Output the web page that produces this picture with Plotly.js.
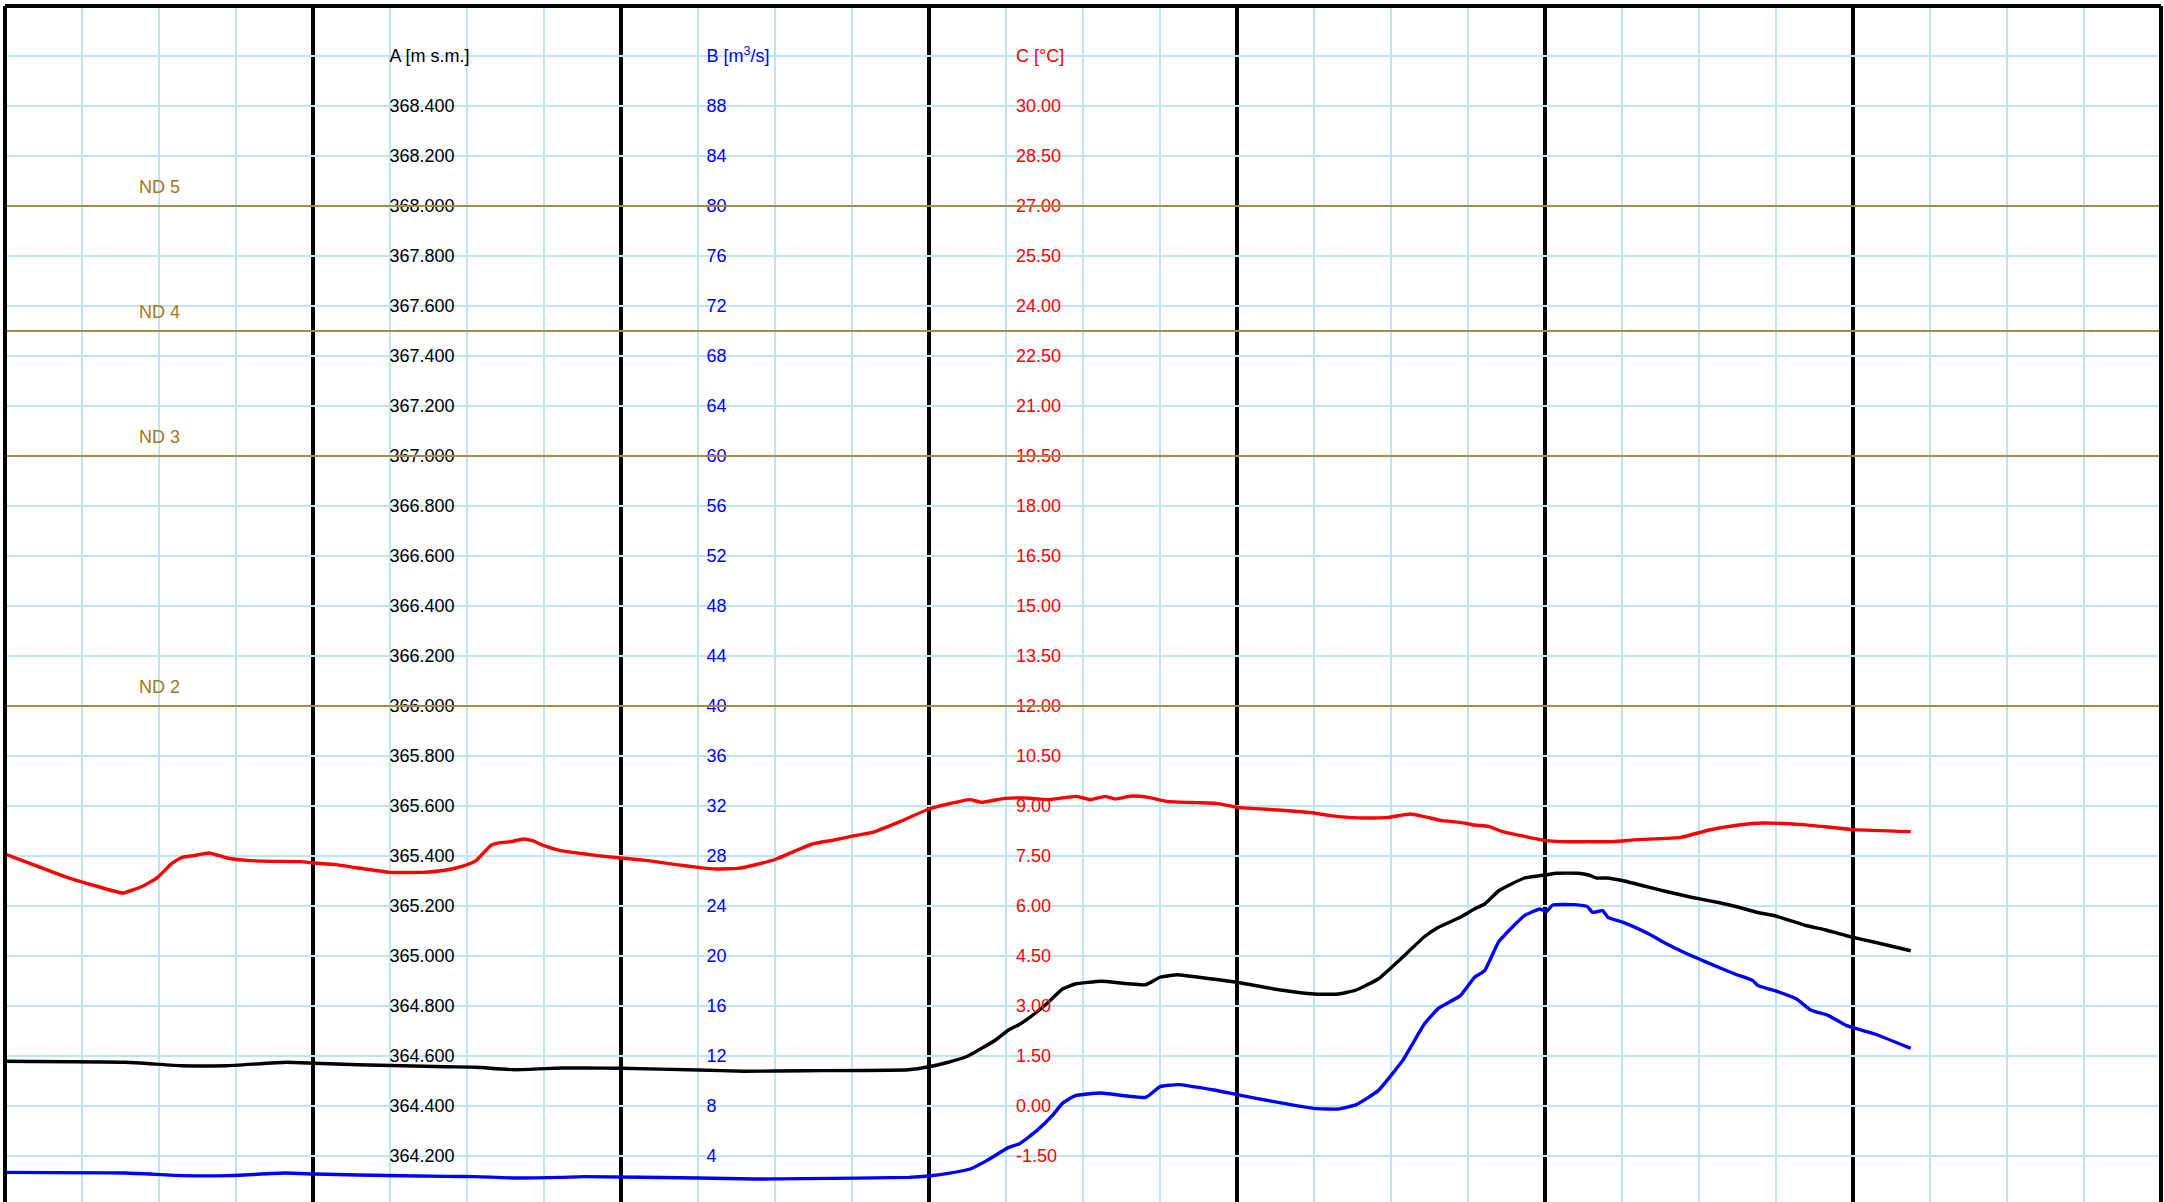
<!DOCTYPE html>
<html>
<head>
<meta charset="utf-8">
<script src="https://cdn.plot.ly/plotly-3.0.1.min.js"></script>
<style>
html, body { margin: 0; padding: 0; overflow: hidden; background: #fff; }
#chart { width: 2164px; height: 1206px; }
</style>
</head>
<body>
<div id="chart"></div>
<script>
// ---- Data (x in hours from the left edge of the chart) ----
const hoursA = [0, 9.4, 13.8, 17.2, 21.9, 24.1, 27.5, 34.4, 36.7, 39.7, 43.3, 45.1, 48.0, 54.0, 57.6, 62.3, 70.4, 72.0, 73.5, 74.9, 76.0, 77.1, 78.2, 79.1, 80.2, 81.3, 82.4, 83.4, 85.4, 88.9, 90.0, 91.4, 93.0, 96.0, 99.4, 102.0, 103.9, 105.3, 107.0, 108.9, 110.6, 111.7, 113.4, 114.5, 115.3, 116.4, 118.4, 120.1, 120.9, 122.6, 123.4, 124.0, 124.8, 126.1, 129.2, 131.4, 133.7, 135.1, 136.5, 137.9, 140.4, 141.8, 143.5, 145.7, 148.5];
const valuesA = [364.579, 364.575, 364.561, 364.561, 364.575, 364.571, 364.565, 364.557, 364.555, 364.545, 364.552, 364.552, 364.551, 364.544, 364.539, 364.541, 364.545, 364.557, 364.575, 364.597, 364.628, 364.661, 364.704, 364.728, 364.768, 364.815, 364.868, 364.888, 364.899, 364.885, 364.915, 364.925, 364.915, 364.895, 364.864, 364.848, 364.848, 364.864, 364.908, 364.995, 365.077, 365.115, 365.155, 365.188, 365.208, 365.261, 365.312, 365.325, 365.331, 365.331, 365.324, 365.312, 365.312, 365.301, 365.261, 365.235, 365.212, 365.195, 365.175, 365.161, 365.121, 365.105, 365.081, 365.055, 365.021];

const hoursB = [0, 9.4, 13.8, 17.4, 21.9, 24.1, 27.5, 34.4, 36.7, 39.7, 43.3, 45.1, 54.0, 58.4, 62.3, 70.4, 72.0, 73.5, 75.2, 76.5, 78.2, 79.1, 80.4, 81.6, 82.4, 83.4, 85.4, 88.9, 90.0, 91.4, 94.2, 96.0, 99.2, 102.0, 103.9, 105.3, 107.0, 108.9, 110.6, 111.7, 113.4, 114.5, 115.3, 116.4, 118.4, 119.6, 120.1, 120.6, 122.3, 123.3, 123.7, 124.5, 124.9, 126.1, 128.1, 129.5, 131.1, 132.8, 134.8, 136.2, 136.6, 137.9, 139.6, 140.7, 142.1, 143.5, 145.7, 148.5];
const valuesB = [2.69, 2.64, 2.43, 2.43, 2.64, 2.56, 2.48, 2.37, 2.35, 2.24, 2.29, 2.35, 2.24, 2.16, 2.19, 2.29, 2.40, 2.61, 2.96, 3.63, 4.69, 5.01, 6.03, 7.23, 8.21, 8.83, 9.04, 8.69, 9.55, 9.71, 9.28, 8.91, 8.29, 7.81, 7.76, 8.11, 9.23, 11.63, 14.56, 15.81, 16.83, 18.29, 18.83, 21.15, 23.23, 23.76, 23.55, 24.08, 24.11, 23.95, 23.49, 23.63, 23.09, 22.69, 21.76, 20.96, 20.16, 19.41, 18.56, 18.03, 17.63, 17.23, 16.56, 15.68, 15.23, 14.43, 13.76, 12.61];

const hoursC = [0, 2.4, 4.6, 6.9, 9.2, 10.8, 11.9, 13.0, 13.8, 14.7, 15.9, 17.3, 19.1, 20.8, 23.0, 24.1, 25.8, 27.5, 30.0, 32.5, 34.4, 35.8, 36.7, 37.9, 38.6, 39.4, 40.4, 41.1, 42.0, 43.3, 44.2, 46.2, 48.0, 50.1, 52.3, 54.0, 55.4, 57.1, 58.4, 60.1, 61.5, 62.9, 64.6, 66.2, 67.6, 69.6, 72.0, 73.5, 75.2, 76.1, 77.9, 79.6, 81.3, 83.5, 84.6, 85.7, 86.5, 87.8, 89.1, 90.5, 92.8, 94.4, 96.1, 99.2, 102.0, 103.3, 104.7, 106.1, 107.8, 109.5, 110.6, 112.0, 113.4, 114.5, 115.6, 116.7, 118.4, 120.1, 121.2, 123.4, 125.3, 127.2, 130.6, 132.8, 135.1, 137.0, 140.1, 144.1, 148.5];
const valuesC = [7.56, 7.21, 6.89, 6.62, 6.39, 6.61, 6.86, 7.28, 7.46, 7.51, 7.59, 7.44, 7.36, 7.34, 7.33, 7.29, 7.24, 7.14, 7.01, 7.01, 7.08, 7.21, 7.36, 7.83, 7.90, 7.93, 8.01, 7.96, 7.81, 7.66, 7.61, 7.51, 7.44, 7.36, 7.24, 7.16, 7.11, 7.13, 7.23, 7.41, 7.64, 7.86, 7.98, 8.11, 8.21, 8.51, 8.91, 9.06, 9.19, 9.11, 9.23, 9.24, 9.19, 9.29, 9.19, 9.29, 9.21, 9.30, 9.26, 9.14, 9.10, 9.08, 8.96, 8.88, 8.79, 8.71, 8.66, 8.64, 8.66, 8.76, 8.68, 8.56, 8.51, 8.43, 8.39, 8.23, 8.09, 7.96, 7.93, 7.93, 7.93, 7.99, 8.06, 8.28, 8.43, 8.49, 8.44, 8.29, 8.23];

// ---- Tick labels ----
const ticksA = [364.2, 364.4, 364.6, 364.8, 365.0, 365.2, 365.4, 365.6, 365.8, 366.0, 366.2, 366.4, 366.6, 366.8, 367.0, 367.2, 367.4, 367.6, 367.8, 368.0, 368.2, 368.4, 368.6];
const labelsA = ['364.200', '364.400', '364.600', '364.800', '365.000', '365.200', '365.400', '365.600', '365.800', '366.000', '366.200', '366.400', '366.600', '366.800', '367.000', '367.200', '367.400', '367.600', '367.800', '368.000', '368.200', '368.400', 'A [m s.m.]'];
const ticksB = [4, 8, 12, 16, 20, 24, 28, 32, 36, 40, 44, 48, 52, 56, 60, 64, 68, 72, 76, 80, 84, 88, 92];
const labelsB = ['4', '8', '12', '16', '20', '24', '28', '32', '36', '40', '44', '48', '52', '56', '60', '64', '68', '72', '76', '80', '84', '88', 'B [m<sup>3</sup>/s]'];
const ticksC = [-1.5, 0, 1.5, 3, 4.5, 6, 7.5, 9, 10.5, 12, 13.5, 15, 16.5, 18, 19.5, 21, 22.5, 24, 25.5, 27, 28.5, 30, 31.5];
const labelsC = ['-1.50', '0.00', '1.50', '3.00', '4.50', '6.00', '7.50', '9.00', '10.50', '12.00', '13.50', '15.00', '16.50', '18.00', '19.50', '21.00', '22.50', '24.00', '25.50', '27.00', '28.50', '30.00', 'C [°C]'];

const dayTicks = [0, 24, 48, 72, 96, 120, 144, 168];

const ndLevels = [368.0, 367.5, 367.0, 366.0];
const ndLabels = ['ND 5', 'ND 4', 'ND 3', 'ND 2'];

// ---- Styling ----
const FONT = 'Liberation Sans, Arial, Helvetica, sans-serif';
const GRID = '#BDE6F3';
const ND_LINE = '#A58D47';
const ND_TEXT = '#A0781E';

const lineStyle = (c) => ({ color: c, width: 3.4, shape: 'spline', smoothing: 0.4 });

const traces = [
  { x: hoursC, y: valuesC, yaxis: 'y3', mode: 'lines', line: lineStyle('#FF0000'), hoverinfo: 'skip' },
  { x: hoursA, y: valuesA, yaxis: 'y', mode: 'lines', line: lineStyle('#000000'), hoverinfo: 'skip' },
  { x: hoursB, y: valuesB, yaxis: 'y2', mode: 'lines', line: lineStyle('#0000FF'), hoverinfo: 'skip' }
];

const shapes = ndLevels.map(v => ({
  type: 'line', xref: 'paper', x0: 0, x1: 1, yref: 'y', y0: v, y1: v,
  line: { color: ND_LINE, width: 2 }, layer: 'above'
}));
shapes.push(
  { type: 'line', xref: 'paper', yref: 'paper', x0: 0, x1: 1, y0: 1, y1: 1, line: { color: '#000', width: 4 }, layer: 'above' },
  { type: 'line', xref: 'paper', yref: 'paper', x0: 0, x1: 0, y0: 0, y1: 1, line: { color: '#000', width: 4 }, layer: 'above' },
  { type: 'line', xref: 'paper', yref: 'paper', x0: 1, x1: 1, y0: 0, y1: 1, line: { color: '#000', width: 4 }, layer: 'above' }
);

const annotations = ndLevels.map((v, i) => ({
  x: 12.0, xref: 'x', y: v, yref: 'y', text: ndLabels[i], showarrow: false,
  xanchor: 'center', yanchor: 'bottom', yshift: 7,
  font: { family: FONT, size: 18, color: ND_TEXT }
}));

const valueAxis = (extra) => Object.assign({
  anchor: 'free', side: 'right', ticklabelposition: 'outside', ticks: '',
  showgrid: false, zeroline: false, showline: false, tickmode: 'array'
}, extra);

const layout = {
  width: 2164, height: 1206,
  margin: { l: 5, r: 3, t: 6, b: 0, pad: 0 },
  paper_bgcolor: '#ffffff', plot_bgcolor: '#ffffff',
  showlegend: false,
  font: { family: FONT, size: 18, color: '#000' },
  xaxis: {
    range: [0, 168], tickmode: 'array', tickvals: dayTicks, showticklabels: false, ticks: '',
    showgrid: true, gridcolor: '#000000', gridwidth: 3.5, zeroline: false, showline: false,
    minor: { tick0: 0, dtick: 6, showgrid: true, gridcolor: GRID, gridwidth: 1.5, ticks: '' }
  },
  yaxis: valueAxis({
    range: [364.0, 368.8], tickvals: ticksA, ticktext: labelsA, position: 0.1779,
    showgrid: true, gridcolor: GRID, gridwidth: 2,
    tickfont: { family: FONT, size: 18, color: '#000000' }
  }),
  yaxis2: valueAxis({
    range: [0, 96], overlaying: 'y', tickvals: ticksB, ticktext: labelsB, position: 0.3249,
    tickfont: { family: FONT, size: 18, color: '#0000FF' }
  }),
  yaxis3: valueAxis({
    range: [-3, 33], overlaying: 'y', tickvals: ticksC, ticktext: labelsC, position: 0.4685,
    tickfont: { family: FONT, size: 18, color: '#FF0000' }
  }),
  shapes: shapes,
  annotations: annotations
};

Plotly.newPlot('chart', traces, layout, { staticPlot: true, displayModeBar: false });
</script>
</body>
</html>
